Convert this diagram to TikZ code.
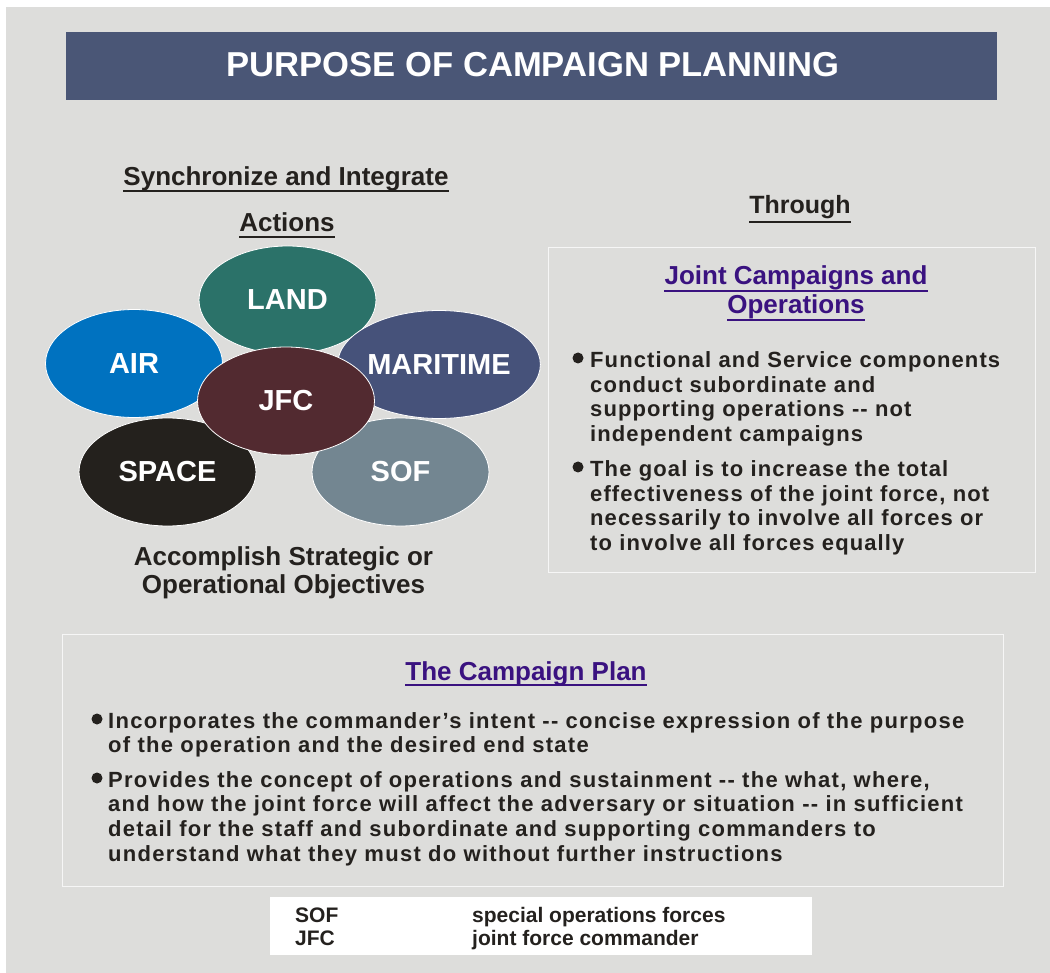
\documentclass[tikz,border=0pt]{standalone}
\usepackage{fontspec}
\setmainfont{Liberation Sans}
\newfontfamily\spacedfont{Liberation Sans}[LetterSpace=5]
\newfontfamily\widefont{Liberation Sans}[LetterSpace=5.8]
\usepackage{xcolor}
\usetikzlibrary{shapes.geometric, positioning}

\definecolor{bggray}{RGB}{221,221,219}
\definecolor{titleblue}{RGB}{74,86,118}
\definecolor{landteal}{RGB}{43,114,105}
\definecolor{airblue}{RGB}{0,114,192}
\definecolor{maritimeblue}{RGB}{70,82,122}
\definecolor{jfcbrown}{RGB}{82,42,48}
\definecolor{spaceblack}{RGB}{36,33,29}
\definecolor{sofgray}{RGB}{115,134,145}
\definecolor{headpurple}{RGB}{58,18,128}
\definecolor{textdark}{RGB}{36,33,30}
\definecolor{framewhite}{RGB}{246,246,246}

\begin{document}
\begin{tikzpicture}[x=1pt, y=-1pt]
  % Set the styles
  \tikzset{
    region/.style={ellipse, draw=white, line width=0.8pt, minimum width=177pt, minimum height=108pt, inner sep=0pt, text=white, font=\fontsize{29}{31}\selectfont\bfseries},
    heading/.style={inner sep=0pt, anchor=base, text=textdark, font=\fontsize{26}{28}\selectfont\bfseries},
    bodytext/.style={inner sep=0pt, anchor=base west, align=left, text=textdark},
    panel/.style={draw=framewhite, line width=1pt, fill=bggray},
    dot/.style={circle, fill=textdark, inner sep=0pt, minimum size=11pt},
    uline/.style={line width=1.4pt}
  }

  % Draw the background
  \useasboundingbox (0,0) rectangle (1050,973);
  \fill[white] (0,0) rectangle (1050,973);
  \fill[bggray] (6,7) rectangle (1050,973);

  % Draw the title bar
  \fill[titleblue] (66,32) rectangle (997,100);
  \node[inner sep=0pt, text=white, font=\fontsize{34.6}{36}\selectfont\bfseries] (title) at (533,64.5) {PURPOSE OF CAMPAIGN PLANNING};

  % Draw the headings on the left
  \node[heading] (sync) at (286,186) {Synchronize and Integrate\ };
  \node[heading] (actions) at (287,232) {Actions};
  \draw[uline, textdark] ([yshift=-5pt]sync.base west) -- ([yshift=-5pt]sync.base east);
  \draw[uline, textdark] ([yshift=-5pt]actions.base west) -- ([yshift=-5pt]actions.base east);

  % Draw the force ellipses
  \foreach \name/\x/\y/\col/\label in {land/287.5/300/landteal/LAND, air/134/363.5/airblue/AIR, maritime/439/364.5/maritimeblue/MARITIME, space/167.5/472/spaceblack/SPACE, sof/400.5/472/sofgray/SOF, jfc/286/401/jfcbrown/JFC}{
    \node[region, fill=\col] (\name) at (\x,\y) {\label};
  }

  \node[heading] (accomp1) at (283.5,565) {Accomplish Strategic or};
  \node[heading] (accomp2) at (283.5,593) {Operational Objectives};

  % Draw the right panel
  \node[heading, font=\fontsize{25}{27}\selectfont\bfseries] (through) at (800,214) {Through\ };
  \draw[uline, textdark] ([yshift=-8pt]through.base west) -- ([yshift=-8pt]through.base east);
  \draw[panel] (548,248) rectangle (1035,572);
  \node[heading, text=headpurple] (joint1) at (796,285) {Joint Campaigns and\ };
  \node[heading, text=headpurple] (joint2) at (796,314) {Operations\ };
  \draw[uline, headpurple] ([yshift=-6pt]joint1.base west) -- ([yshift=-6pt]joint1.base east);
  \draw[uline, headpurple] ([yshift=-6pt]joint2.base west) -- ([yshift=-6pt]joint2.base east);

  \node[dot] (dota) at (578,358) {};
  \node[bodytext, text width=440pt, font=\fontsize{22}{24.4}\selectfont\spacedfont\bfseries] (pointa) at (590,368)
    {Functional and Service components\\ conduct subordinate and\\ supporting operations -{}- not\\ independent campaigns};
  \node[dot] (dotb) at (578,467) {};
  \node[bodytext, text width=440pt, font=\fontsize{22}{24.4}\selectfont\spacedfont\bfseries] (pointb) at (590,477)
    {The goal is to increase the total\\ effectiveness of the joint force, not\\ necessarily to involve all forces or\\ to involve all forces equally};

  % Draw the campaign plan panel
  \draw[panel] (62,634) rectangle (1003,886);
  \node[heading, text=headpurple] (plan) at (526,680) {The Campaign Plan\ };
  \draw[uline, headpurple] ([yshift=-5pt]plan.base west) -- ([yshift=-5pt]plan.base east);

  \node[dot] (dotc) at (97,719) {};
  \node[bodytext, text width=890pt, font=\fontsize{22}{24.4}\selectfont\widefont\bfseries] (pointc) at (108,728)
    {Incorporates the commander’s intent -{}- concise expression of the purpose\\ of the operation and the desired end state};
  \node[dot] (dotd) at (97,778) {};
  \node[bodytext, text width=890pt, font=\fontsize{22}{24.7}\selectfont\widefont\bfseries] (pointd) at (108,787)
    {Provides the concept of operations and sustainment -{}- the what, where,\\ and how the joint force will affect the adversary or situation -{}- in sufficient\\ detail for the staff and subordinate and supporting commanders to\\ understand what they must do without further instructions};

  % Draw the legend
  \fill[white] (270,897) rectangle (812,955);
  \foreach \i/\abbr/\full/\y in {1/SOF/special operations forces/922, 2/JFC/joint force commander/945}{
    \node[bodytext, font=\fontsize{21}{23}\selectfont\bfseries] (abbr\i) at (295,\y) {\abbr};
    \node[bodytext, font=\fontsize{21}{23}\selectfont\bfseries] (full\i) at (472,\y) {\full};
  }
\end{tikzpicture}
\end{document}
